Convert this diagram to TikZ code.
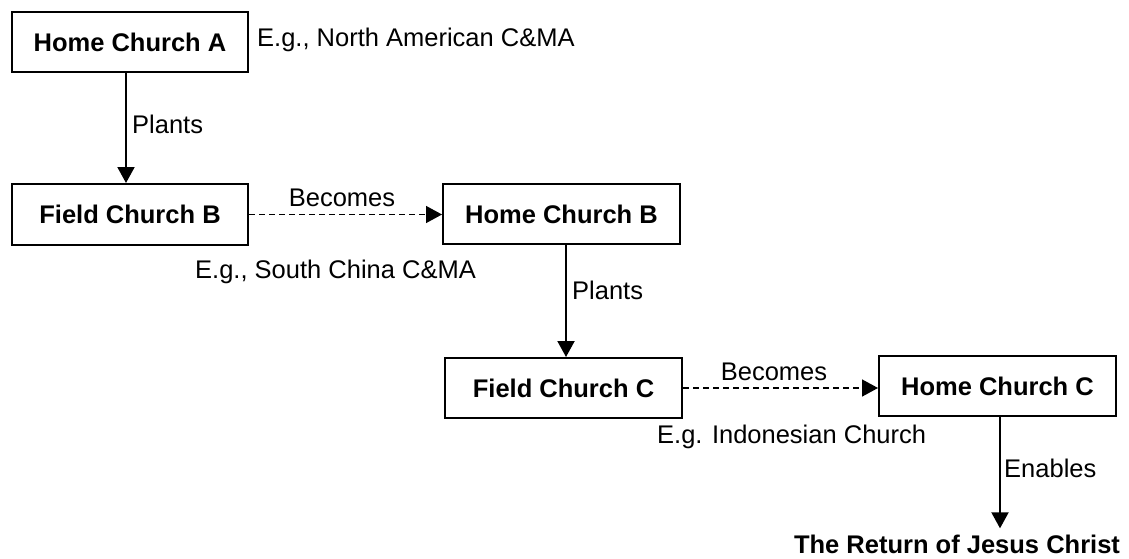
\documentclass[tikz,border=0pt]{standalone}
\usepackage{fontspec}
\setmainfont{Liberation Sans}
\usetikzlibrary{arrows.meta}
\begin{document}
\begin{tikzpicture}[x=1pt,y=-1pt,
  every node/.style={font=\fontsize{25.5}{28}\selectfont},
  box/.style={draw=black,line width=2pt,rectangle,inner sep=0pt,font=\fontsize{25.5}{28}\selectfont\bfseries},
  lbl/.style={inner sep=0pt},
  arr/.style={line width=2pt,-{Triangle[width=17pt,length=16pt]}},
  darr/.style={line width=1.5pt,dash pattern=on 6pt off 4pt,-{Triangle[width=17pt,length=16pt]}}]
\useasboundingbox (0,0) rectangle (1129,559);
% boxes
\node[box,minimum width=236pt,minimum height=60pt] (A) at (130,42) {Home Church A};
\node[box,minimum width=236pt,minimum height=61pt] (FB) at (130,214.5) {Field Church B};
\node[box,minimum width=237pt,minimum height=60pt] (HB) at (561.5,214) {Home Church B};
\node[box,minimum width=237pt,minimum height=60pt] (FC) at (563.5,388) {Field Church C};
\node[box,minimum width=237pt,minimum height=60pt] (HC) at (997.5,386) {Home Church C};
\node[lbl,anchor=base,font=\fontsize{25.5}{28}\selectfont\bfseries] (R) at (957,553) {The Return of Jesus Christ};
% side notes
\node[lbl,anchor=west] (nA) at (257,40) {E.g., North American C\&MA};
\node[lbl,anchor=west] (nB) at (195,272) {E.g., South China C\&MA};
\node[lbl,anchor=west] (nC) at (657,437) {E.g. Indonesian Church};
% connectors
\coordinate (p1) at ([xshift=-4pt]A.south);
\draw[arr] (p1) -- (p1 |- FB.north);
\node[lbl,anchor=west] (l1) at (132,124) {Plants};
\draw[darr] (FB.east) -- (FB.east -| HB.west);
\node[lbl] (l2) at (342,198) {Becomes};
\coordinate (p2) at ([xshift=4.5pt]HB.south);
\draw[arr] (p2) -- (p2 |- FC.north);
\node[lbl,anchor=west] (l3) at (572,290) {Plants};
\draw[darr] (FC.east) -- (FC.east -| HC.west);
\node[lbl] (l4) at (774,372) {Becomes};
\coordinate (p3) at ([xshift=2.5pt]HC.south);
\draw[arr,shorten >=6pt] (p3) -- (p3 |- R.north);
\node[lbl,anchor=west] (l5) at (1004,468) {Enables};
\end{tikzpicture}
\end{document}
